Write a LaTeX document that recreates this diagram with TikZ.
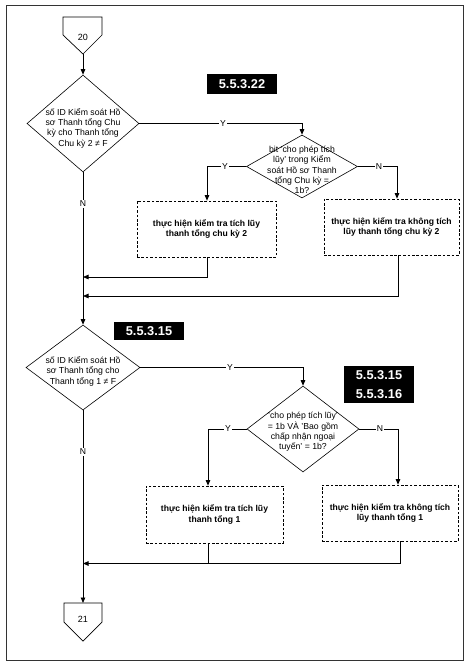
\documentclass[tikz,border=0pt]{standalone}
\usepackage{fontspec}
\setmainfont{Liberation Sans}
\usetikzlibrary{arrows.meta,shapes.geometric}
\begin{document}
\begin{tikzpicture}[x=1pt,y=-1pt,
  ln/.style={line width=0.8pt},
  arr/.style={line width=0.8pt,-{Triangle[length=5.5pt,width=4.5pt]}},
  dia/.style={draw,diamond,line width=0.6pt,inner sep=0pt,aspect=1},
  dtext/.style={font=\fontsize{8.7}{10.4}\selectfont,align=center,inner sep=0pt},
  pbox/.style={draw,dash pattern=on 2.6pt off 1.8pt,line width=0.7pt,font=\bfseries\fontsize{8.6}{10.4}\selectfont,align=center,inner sep=0pt},
  tag/.style={fill=black,text=white,font=\bfseries\fontsize{12.8}{19}\selectfont,align=center,inner sep=0pt,minimum width=70pt},
  yn/.style={fill=white,font=\fontsize{8.6}{9}\selectfont,inner sep=0.8pt},
  conn/.style={line width=0.7pt}]
\useasboundingbox (0,0) rectangle (472,664);
\draw[line width=1pt,black!80] (6,5) rectangle (463,660);

% connector 20
\draw[conn] (63,17) -- (102,17) -- (102,35) -- (83,54) -- (63,35) -- cycle;
\node[font=\fontsize{9}{10}\selectfont] (c20) at (83,37) {20};
\coordinate (c20p) at (83,54);

% diamonds
\node[dia,minimum width=112pt,minimum height=97pt] (d1) at (83,123.5) {};
\node[dtext] (t1) at (83,128) {số ID Kiểm soát Hồ\\sơ Thanh tổng Chu\\kỳ cho Thanh tổng\\Chu kỳ 2 ≠ F};
\node[dia,minimum width=111pt,minimum height=63pt] (d2) at (302,166.5) {};
\node[dtext] (t2) at (302,170) {bit 'cho phép tích\\lũy' trong Kiểm\\soát Hồ sơ Thanh\\tổng Chu kỳ =\\1b?};
\node[dia,minimum width=114pt,minimum height=85pt] (d3) at (83,367.5) {};
\node[dtext] (t3) at (83,371) {số ID Kiểm soát Hồ\\sơ Thanh tổng cho\\Thanh tổng 1 ≠ F};
\node[dia,minimum width=112pt,minimum height=86pt] (d4) at (303,429) {};
\node[dtext] (t4) at (303,432) {'cho phép tích lũy'\\= 1b VÀ 'Bao gồm\\chấp nhận ngoại\\tuyến' = 1b?};

% process boxes
\node[pbox,minimum width=139pt,minimum height=56pt] (b1) at (206.5,229) {thực hiện kiểm tra tích lũy\\thanh tổng chu kỳ 2};
\node[pbox,minimum width=135pt,minimum height=56pt] (b2) at (391.5,227) {thực hiện kiểm tra không tích\\lũy thanh tổng chu kỳ 2};
\node[pbox,minimum width=137pt,minimum height=57pt] (b3) at (214.5,514.5) {thực hiện kiểm tra tích lũy\\thanh tổng 1};
\node[pbox,minimum width=136pt,minimum height=56pt] (b4) at (390,513) {thực hiện kiểm tra không tích\\lũy thanh tổng 1};

% tags
\node[tag,minimum height=20pt] (g1) at (242,84) {5.5.3.22};
\node[tag,minimum height=18pt] (g2) at (149,331) {5.5.3.15};
\node[tag,minimum height=37pt] (g3) at (379,384.5) {5.5.3.15\\5.5.3.16};

% connector 21
\draw[conn] (64,603) -- (102,603) -- (102,622) -- (83,641) -- (64,622) -- cycle;
\node[font=\fontsize{9}{10}\selectfont] (c21) at (83,619) {21};
\coordinate (c21t) at (83,603);

% junction coordinates
\coordinate (j1) at (83,277);
\coordinate (j2) at (83,296);
\coordinate (j3) at (83,563.5);
\coordinate (b1n) at ([xshift=0.5pt]b1.north);
\coordinate (b1s) at ([xshift=0.5pt]b1.south);
\coordinate (b2n) at ([xshift=5.5pt]b2.north);
\coordinate (b2s) at ([xshift=6.5pt]b2.south);
\coordinate (b3n) at ([xshift=-6.5pt]b3.north);
\coordinate (b3s) at ([xshift=-6.5pt]b3.south);
\coordinate (b4n) at ([xshift=8pt]b4.north);
\coordinate (b4s) at ([xshift=10pt]b4.south);

% connectors
\draw[arr] (c20p) -- (d1.north);
\draw[arr] (d1.east) -| (d2.north);
\draw[arr] (d2.west) -| (b1n);
\draw[arr] (d2.east) -| (b2n);
\draw[arr] (b1s) |- (j1);
\draw[arr] (b2s) |- (j2);
\draw[arr] (d1.south) -- (d3.north);
\draw[arr] (d3.east) -| (d4.north);
\draw[arr] (d4.west) -| (b3n);
\draw[arr] (d4.east) -| (b4n);
\draw[arr] (b4s) |- (j3);
\draw[ln] (b3s) -- (b3s |- j3);
\draw[arr] (d3.south) -- (c21t);

% Y / N labels
\node[yn] (l1) at (223,123.5) {Y};
\node[yn] (l2) at (225,166.5) {Y};
\node[yn] (l3) at (379,166.5) {N};
\node[yn] (l4) at (83,204) {N};
\node[yn] (l5) at (230,367.5) {Y};
\node[yn] (l6) at (228,429) {Y};
\node[yn] (l7) at (380,429) {N};
\node[yn] (l8) at (83,452) {N};
\end{tikzpicture}
\end{document}
